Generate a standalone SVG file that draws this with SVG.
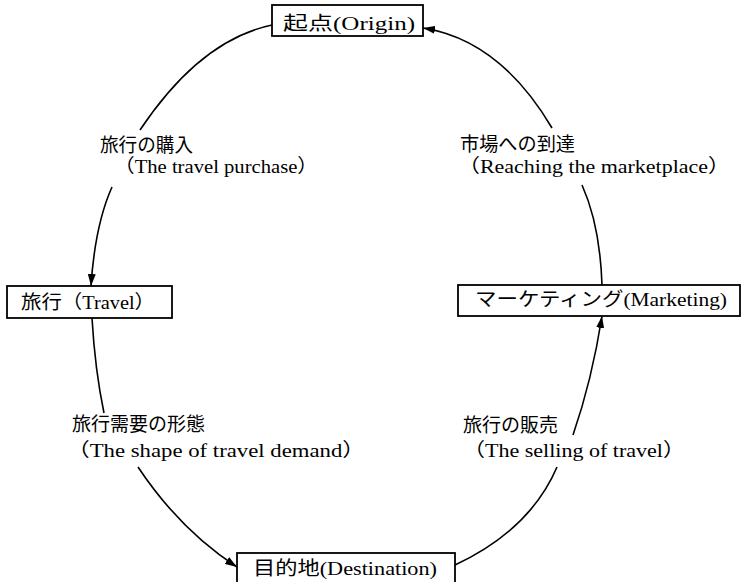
<svg xmlns="http://www.w3.org/2000/svg" width="743" height="582" viewBox="0 0 743 582">
<style>
.box{fill:#fff;stroke:#000;stroke-width:1.8}
.t{font-family:"Liberation Serif","Noto Sans CJK JP",serif;font-size:19px;fill:#000}
.c{fill:none;stroke:#000;stroke-width:1.6}
</style>
<defs>
<marker id="arr" viewBox="0 0 12 8" refX="12" refY="4" markerWidth="12" markerHeight="8" markerUnits="userSpaceOnUse" orient="auto">
<path d="M0,0 L12,4 L0,8 z" fill="#000"/>
</marker>
</defs>
<rect width="743" height="582" fill="#fff"/>
<g id="connectors">
<path class="c" d="M272,25 Q200,40 140,130"/>
<path class="c" d="M112,187 Q95,225 91,286" marker-end="url(#arr)"/>
<path class="c" d="M92,318 Q95,370 104,413"/>
<path class="c" d="M138,467 Q180,530 237,567" marker-end="url(#arr)"/>
<path class="c" d="M455,565 Q530,530 557,467"/>
<path class="c" d="M573,435 Q592,380 602,316" marker-end="url(#arr)"/>
<path class="c" d="M602,285 Q600,225 582,185"/>
<path class="c" d="M552,128 Q500,40 423,28" marker-end="url(#arr)"/>
</g>
<g id="origin">
<rect class="box" x="272" y="5" width="151" height="31"/>
<text class="t" x="283" y="30" font-size="20" textLength="132" lengthAdjust="spacingAndGlyphs">起点(Origin)</text>
</g>
<g id="travel">
<rect class="box" x="7" y="286" width="165" height="32"/>
<text class="t" x="21" y="309" font-size="20" textLength="134" lengthAdjust="spacingAndGlyphs">旅行（Travel）</text>
</g>
<g id="marketing">
<rect class="box" x="458" y="285" width="282" height="31"/>
<text class="t" x="475" y="306" font-size="20" textLength="252" lengthAdjust="spacingAndGlyphs">マーケティング(Marketing)</text>
</g>
<g id="destination">
<rect class="box" x="237" y="553" width="218" height="40"/>
<text class="t" x="253" y="575" font-size="20" textLength="184" lengthAdjust="spacingAndGlyphs">目的地(Destination)</text>
</g>
<g id="labels">
<text class="t" x="100" y="152" textLength="93" lengthAdjust="spacingAndGlyphs">旅行の購入</text>
<text class="t" x="114" y="173" textLength="204" lengthAdjust="spacingAndGlyphs">（The travel purchase）</text>
<text class="t" x="460" y="151" textLength="115" lengthAdjust="spacingAndGlyphs">市場への到達</text>
<text class="t" x="458" y="173" textLength="272" lengthAdjust="spacingAndGlyphs">（Reaching the marketplace）</text>
<text class="t" x="72" y="431" textLength="133" lengthAdjust="spacingAndGlyphs">旅行需要の形態</text>
<text class="t" x="67" y="457" textLength="298" lengthAdjust="spacingAndGlyphs">（The shape of travel demand）</text>
<text class="t" x="463" y="432" textLength="95" lengthAdjust="spacingAndGlyphs">旅行の販売</text>
<text class="t" x="463" y="457" textLength="222" lengthAdjust="spacingAndGlyphs">（The selling of travel）</text>
</g>
</svg>
